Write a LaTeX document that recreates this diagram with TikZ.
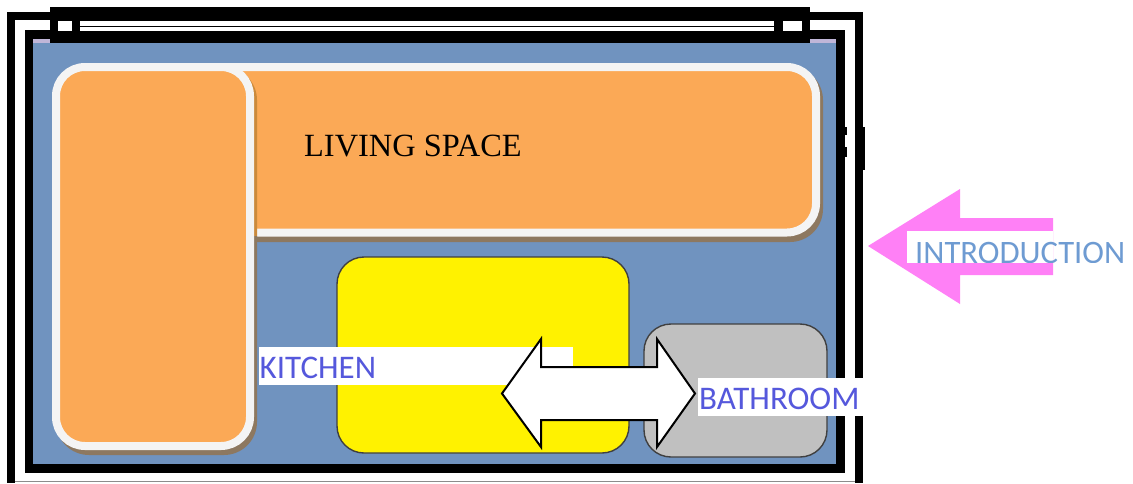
\documentclass[tikz,border=0pt]{standalone}
\usepackage{fontspec}
\setmainfont{Liberation Serif}
\newfontfamily\calib{Carlito}
\definecolor{wallblue}{HTML}{7093BF}
\definecolor{roomorange}{HTML}{FBA956}
\definecolor{shadowbrown}{HTML}{8D7860}
\definecolor{shadoworange}{HTML}{CB8A3C}
\definecolor{lilac}{HTML}{C0B6D8}
\definecolor{roomyellow}{HTML}{FFF200}
\definecolor{roomgray}{HTML}{C0C0C0}
\definecolor{pinkarrow}{HTML}{FF80F6}
\definecolor{labelblue}{HTML}{5558DC}
\definecolor{introblue}{HTML}{6E9BD2}
\definecolor{edgewhite}{HTML}{F4F4F4}
\tikzset{
  blackbar/.style={fill=black,draw=none},
  room/.style={draw=edgewhite,line width=8pt,fill=roomorange,rounded corners=29pt},
  roomshadow/.style={fill=shadowbrown,draw=none,rounded corners=33pt},
  plan/.style={draw=black!75,line width=1.4pt,rounded corners=27pt},
  labelband/.style={fill=white,draw=none},
  tag/.style={inner sep=0pt,anchor=base west,text=labelblue,font=\calib\fontsize{33}{33}\selectfont},
}
\begin{document}
\begin{tikzpicture}[x=1pt,y=-1pt]
\useasboundingbox (0,0) rectangle (1133,483);
\fill[white] (0,0) rectangle (1133,483);
% outer frame
\fill[blackbar] (7,12) rectangle (863,483);
\fill[white] (15,20) rectangle (855,483);
\fill[black!45] (15,481.4) rectangle (855,482.4);
% inner frame
\fill[blackbar] (25,30) rectangle (845,473);
% wall
\fill[lilac] (33,39) rectangle (836,44);
\fill[wallblue] (33,43) rectangle (836,464);
% top band
\fill[blackbar] (50,7) rectangle (810,43);
\fill[white] (58,20.5) rectangle (72,31);
\fill[white] (80,20.5) rectangle (774,25.5);
\fill[white] (80,27) rectangle (774,31);
\fill[white] (783,20.5) rectangle (802,31);
% side notches
\fill[blackbar] (845,127) rectangle (847,135);
\fill[blackbar] (845,147) rectangle (847,157);
\fill[blackbar] (863,127) rectangle (865,170);
% living space
\fill[roomshadow] (200,67) rectangle (823,242);
\draw[room] (200,67) rectangle (816,232.5);
% tall room
\begin{scope}
  \clip (54,66) rectangle (258,236);
  \fill[shadoworange,rounded corners=33pt] (56,67) rectangle (257,455);
\end{scope}
\begin{scope}
  \clip (54,236) rectangle (258,460);
  \fill[shadowbrown,rounded corners=33pt] (56,67) rectangle (257,455);
\end{scope}
\draw[room] (56,67) rectangle (250,446);
% yellow and gray rooms
\draw[plan,fill=roomyellow] (337,257) rectangle (629,453);
\draw[plan,fill=roomgray] (644,324) rectangle (827,457);
% labels
\fill[labelband] (259,347) rectangle (573,385);
\fill[labelband] (698,378) rectangle (863,416);
\node[tag] (kitchen) at (259.5,378.5) {KITCHEN};
\node[tag] (bathroom) at (699,409.5) {BATHROOM};
\node[inner sep=0pt,anchor=base west,font=\fontsize{32.4}{33}\selectfont] (living) at (304,156) {LIVING SPACE};
% double arrow
\draw[fill=white,draw=black,line width=2pt,miter limit=10]
  (502,393.5) -- (541,339) -- (541,367) -- (657,367) -- (657,339) -- (695,393.5)
  -- (657,447) -- (657,420) -- (541,420) -- (541,447) -- cycle;
% introduction arrow
\fill[pinkarrow] (868,246) -- (960,189) -- (960,218) -- (1053,218) -- (1053,275)
  -- (960,275) -- (960,304) -- cycle;
\fill[labelband] (907,231) rectangle (1053,263);
\begin{scope}
  \clip (900,231) rectangle (1133,262.5);
  \node[tag,text=introblue,font=\calib\fontsize{32.7}{33}\selectfont] (intro) at (915,263) {INTRODUCTION};
\end{scope}
\end{tikzpicture}
\end{document}
